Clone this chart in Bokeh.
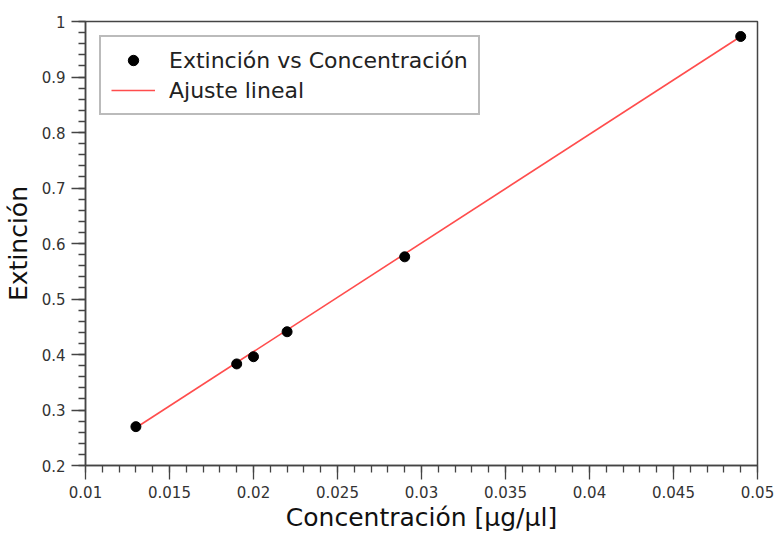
import numpy as np
from bokeh.plotting import figure
from bokeh.models import Range1d, Legend, LegendItem, FixedTicker
from bokeh.embed import file_html
from bokeh.resources import INLINE

# Data
concentracion = [0.013, 0.019, 0.020, 0.022, 0.029, 0.049]
extincion = [0.270, 0.383, 0.396, 0.441, 0.576, 0.973]
ajuste_x = [0.013, 0.049]
ajuste_y = [0.268, 0.973]

x_ticks = [0.01, 0.015, 0.02, 0.025, 0.03, 0.035, 0.04, 0.045, 0.05]
y_ticks = [0.2, 0.3, 0.4, 0.5, 0.6, 0.7, 0.8, 0.9, 1.0]
x_minor_step = 0.001
y_minor_step = 0.02

FONT = "DejaVu Sans"

p = figure(width=774, height=536, output_backend="svg", toolbar_location=None,
           x_range=Range1d(0.01, 0.05), y_range=Range1d(0.2, 1.0),
           min_border_left=84, min_border_right=17, min_border_top=21, min_border_bottom=71)
p.background_fill_color = "white"
p.border_fill_color = "white"
p.outline_line_color = "#444444"
p.outline_line_width = 1.5
p.xgrid.visible = False
p.ygrid.visible = False

r_line = p.line(ajuste_x, ajuste_y, line_color="#ff4d4d", line_width=1.6)
r_pts = p.scatter(concentracion, extincion, size=10, fill_color="black", line_color="black")

x_minor = list(np.round(np.arange(x_ticks[0], x_ticks[-1] + 1e-9, x_minor_step), 6))
y_minor = list(np.round(np.arange(y_ticks[0], y_ticks[-1] + 1e-9, y_minor_step), 6))

for ax, ticks, minor in ((p.xaxis[0], x_ticks, x_minor), (p.yaxis[0], y_ticks, y_minor)):
    ax.ticker = FixedTicker(ticks=ticks, minor_ticks=minor)
    ax.major_label_overrides = {t: ("1" if t == 1.0 else f"{t:g}") for t in ticks}
    ax.axis_line_color = "#444444"
    ax.axis_line_width = 1.5
    ax.major_tick_line_color = "#444444"
    ax.minor_tick_line_color = "#444444"
    ax.major_tick_line_width = 1.3
    ax.minor_tick_line_width = 1.3
    ax.major_tick_in = 0
    ax.major_tick_out = 14
    ax.minor_tick_in = 0
    ax.minor_tick_out = 7
    ax.major_label_text_font = FONT
    ax.major_label_text_font_size = "15px"
    ax.major_label_text_color = "#333333"
    ax.axis_label_text_font = FONT
    ax.axis_label_text_font_size = "25px"
    ax.axis_label_text_font_style = "normal"
    ax.axis_label_text_color = "#111111"

p.xaxis[0].axis_label = "Concentración [µg/µl]"
p.yaxis[0].axis_label = "Extinción"
p.xaxis[0].major_label_standoff = 6
p.yaxis[0].major_label_standoff = 6
p.xaxis[0].axis_label_standoff = 2
p.yaxis[0].axis_label_standoff = 6

legend = Legend(items=[
    LegendItem(label="Extinción vs Concentración", renderers=[r_pts]),
    LegendItem(label="Ajuste lineal", renderers=[r_line]),
], location="top_left")
legend.margin = 14
legend.padding = 10
legend.spacing = 4
legend.glyph_width = 44
legend.glyph_height = 26
legend.label_height = 26
legend.label_standoff = 14
legend.label_text_font = FONT
legend.label_text_font_size = "22px"
legend.label_text_color = "#222222"
legend.border_line_color = "#777777"
legend.border_line_width = 2
legend.background_fill_color = "white"
legend.background_fill_alpha = 1.0
p.add_layout(legend)

open("out.html", "w").write(file_html(p, INLINE))
